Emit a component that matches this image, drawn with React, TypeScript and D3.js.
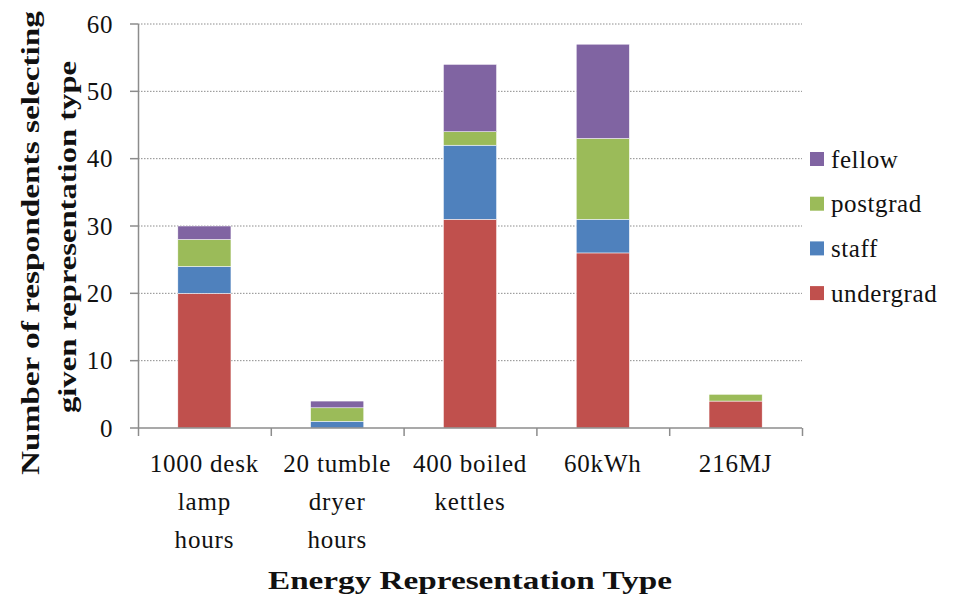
import * as d3 from "d3";
import { useEffect, useRef } from "react";

const categories = [
  ["1000 desk", "lamp", "hours"],
  ["20 tumble", "dryer", "hours"],
  ["400 boiled", "kettles"],
  ["60kWh"],
  ["216MJ"],
];
const seriesNames = ["undergrad", "staff", "postgrad", "fellow"];
const undergrad = [20, 0, 31, 26, 4];
const staff = [4, 1, 11, 5, 0];
const postgrad = [4, 2, 2, 12, 1];
const fellow = [2, 1, 10, 14, 0];
const colors = ["#C0504D", "#4F81BD", "#9BBB59", "#8064A2"];
const yTicks = [0, 10, 20, 30, 40, 50, 60];

const W = 956;
const H = 596;
const FONT = "Liberation Serif";

export default function App() {
  const axesRef = useRef(null);

  const margin = { top: 24, right: 154, bottom: 168, left: 138 };
  const boundsWidth = W - margin.left - margin.right;
  const boundsHeight = H - margin.top - margin.bottom;

  const keys = categories.map((c) => c.join(" "));
  const rows = keys.map((k, i) => ({
    title: k,
    undergrad: undergrad[i],
    staff: staff[i],
    postgrad: postgrad[i],
    fellow: fellow[i],
  }));
  const series = d3.stack<any>().keys(seriesNames)(rows);

  const xScale = d3
    .scaleBand<string>()
    .domain(keys)
    .range([0, boundsWidth])
    .paddingInner(0.6)
    .paddingOuter(0.3);
  const yScale = d3.scaleLinear().domain([0, 60]).range([boundsHeight, 0]);
  const step = xScale.step();

  useEffect(() => {
    const g = d3.select(axesRef.current);
    g.selectAll("*").remove();
    // dotted gridlines
    g.selectAll("line.grid")
      .data(yTicks.filter((t) => t > 0))
      .join("line")
      .attr("x1", 0)
      .attr("x2", boundsWidth)
      .attr("y1", (d) => yScale(d))
      .attr("y2", (d) => yScale(d))
      .attr("stroke", "#8c8c8c")
      .attr("stroke-width", 1)
      .attr("stroke-dasharray", "1.5,1.5");
  }, []);

  return (
    <svg width={W} height={H} style={{ position: "absolute", left: 0, top: 0, background: "#fff" }}>
      <g transform={`translate(${margin.left},${margin.top})`}>
        <g ref={axesRef} />
        {series.map((s, i) => (
          <g key={s.key} fill={colors[i]}>
            {s.map((d, j) =>
              d[1] - d[0] > 0 ? (
                <rect
                  key={j}
                  x={xScale(keys[j])}
                  y={yScale(d[1])}
                  width={xScale.bandwidth()}
                  height={yScale(d[0]) - yScale(d[1])}
                  stroke="#fff"
                  strokeWidth={0.5}
                />
              ) : null
            )}
          </g>
        ))}
        {/* y axis */}
        <line x1={0.5} x2={0.5} y1={0} y2={boundsHeight} stroke="#8c8c8c" strokeWidth={1.5} />
        {yTicks.map((t) => (
          <g key={t} transform={`translate(0,${yScale(t)})`}>
            <line x1={-8} x2={0} stroke="#8c8c8c" strokeWidth={1.5} />
            <text x={-25} dy="0.34em" textAnchor="end" fontFamily={FONT} fontSize={25} letterSpacing={0.6} fill="#111">
              {t}
            </text>
          </g>
        ))}
        {/* x axis */}
        <line x1={0} x2={boundsWidth} y1={boundsHeight} y2={boundsHeight} stroke="#8c8c8c" strokeWidth={1.5} />
        {d3.range(keys.length + 1).map((i) => (
          <line
            key={i}
            x1={i * step + 0.5}
            x2={i * step + 0.5}
            y1={boundsHeight}
            y2={boundsHeight + 8}
            stroke="#8c8c8c"
            strokeWidth={1.5}
          />
        ))}
        {categories.map((lines, i) => (
          <text
            key={i}
            x={(xScale(keys[i]) ?? 0) + xScale.bandwidth() / 2}
            y={boundsHeight + 44}
            textAnchor="middle"
            fontFamily={FONT}
            fontSize={25}
            letterSpacing={0.8}
            fill="#111"
          >
            {lines.map((l, k) => (
              <tspan key={k} x={(xScale(keys[i]) ?? 0) + xScale.bandwidth() / 2} dy={k === 0 ? 0 : 38}>
                {l}
              </tspan>
            ))}
          </text>
        ))}
      </g>
      {/* axis titles */}
      <text
        x={470}
        y={589}
        textAnchor="middle"
        fontFamily={FONT}
        fontSize={25}
        fontWeight="bold"
        fill="#111"
        textLength={404}
        lengthAdjust="spacingAndGlyphs"
      >
        Energy Representation Type
      </text>
      <text
        transform="translate(39,243) rotate(-90)"
        textAnchor="middle"
        fontFamily={FONT}
        fontSize={26}
        fontWeight="bold"
        fill="#111"
        textLength={464}
        lengthAdjust="spacingAndGlyphs"
      >
        Number of respondents selecting
      </text>
      <text
        transform="translate(76,237) rotate(-90)"
        textAnchor="middle"
        fontFamily={FONT}
        fontSize={26}
        fontWeight="bold"
        fill="#111"
        textLength={352}
        lengthAdjust="spacingAndGlyphs"
      >
        given representation type
      </text>
      {/* legend */}
      {seriesNames
        .map((n, i) => ({ n, i }))
        .reverse()
        .map(({ n, i }, k) => (
          <g key={n} transform={`translate(810,${159 + k * 44.7})`}>
            <rect x={0} y={-7} width={14} height={14} fill={colors[i]} />
            <text x={21} dy="0.34em" fontFamily={FONT} fontSize={25} letterSpacing={0.6} fill="#111">
              {n}
            </text>
          </g>
        ))}
    </svg>
  );
}
